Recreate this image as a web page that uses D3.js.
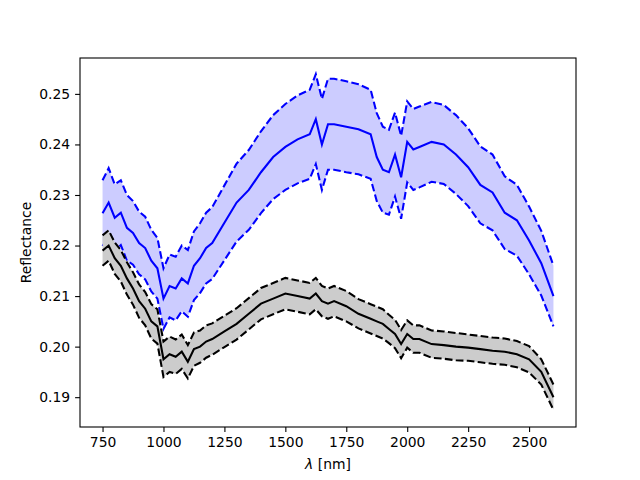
<!DOCTYPE html>
<html><head><meta charset="utf-8">
<script src="https://cdn.jsdelivr.net/npm/d3@7"></script>
<style>body{margin:0;background:#fff}text{font-family:"DejaVu Sans",sans-serif}</style>
</head><body><div id="chart"></div>
<script>
// wavelengths (nm)
const wl = [750,775,800,825,850,875,900,925,950,975,1000,1025,1050,1075,1100,1125,1150,1175,1200,1250,1300,1350,1400,1450,1500,1550,1600,1625,1650,1675,1700,1750,1800,1850,1875,1900,1925,1950,1975,2000,2025,2050,2100,2150,2200,2250,2300,2350,2400,2450,2500,2550,2600];
const blueMean = [.2264,.2285,.2255,.2265,.2235,.2225,.2205,.2195,.2170,.2155,.2095,.2120,.2115,.2135,.2125,.2160,.2175,.2195,.2205,.2245,.2285,.2310,.2345,.2375,.2395,.2410,.2420,.2450,.2400,.2440,.2440,.2435,.2430,.2420,.2375,.2350,.2345,.2380,.2335,.2405,.2390,.2395,.2405,.2400,.2380,.2355,.2320,.2305,.2265,.2250,.2210,.2165,.2100];
const blueSd = [.0065,.0068,.0066,.0064,.0065,.0063,.0062,.0062,.0061,.0060,.0060,.0062,.0063,.0065,.0066,.0068,.0069,.0070,.0071,.0074,.0077,.0079,.0081,.0083,.0085,.0087,.0088,.0089,.0090,.0090,.0090,.0090,.0089,.0088,.0087,.0085,.0084,.0083,.0082,.0080,.0080,.0080,.0079,.0078,.0078,.0077,.0076,.0075,.0072,.0070,.0067,.0064,.0060];
const blackMean = [.2190,.2200,.2175,.2160,.2135,.2115,.2090,.2075,.2050,.2040,.1975,.1985,.1980,.1990,.1970,.1995,.2000,.2010,.2015,.2030,.2045,.2065,.2085,.2095,.2105,.2100,.2095,.2105,.2090,.2085,.2090,.2080,.2065,.2055,.2050,.2045,.2035,.2025,.2005,.2025,.2015,.2015,.2005,.2003,.2000,.1998,.1995,.1992,.1990,.1985,.1975,.1950,.1900];
const blackSd = [.0030,.0030,.0031,.0031,.0032,.0032,.0033,.0033,.0034,.0034,.0035,.0035,.0034,.0034,.0033,.0033,.0032,.0032,.0031,.0031,.0031,.0031,.0031,.0031,.0031,.0031,.0031,.0031,.0030,.0030,.0030,.0030,.0029,.0029,.0029,.0029,.0028,.0028,.0028,.0027,.0027,.0027,.0027,.0027,.0027,.0026,.0026,.0026,.0026,.0026,.0026,.0025,.0025];
const xTicks = [750,1000,1250,1500,1750,2000,2250,2500];
const yTicks = [0.19,0.20,0.21,0.22,0.23,0.24,0.25];

const width = 640, height = 480;
const margin = { top: 58, right: 64, bottom: 53, left: 80 };

const svg = d3.select("#chart").append("svg").attr("width", width).attr("height", height);

const x = d3.scaleLinear().domain([657.5, 2692.5]).range([margin.left, width - margin.right]);
const y = d3.scaleLinear().domain([0.1841, 0.2571]).range([height - margin.bottom, margin.top]);

const drawSeries = (mean, sd, color, fill) => {
    const area = d3.area()
        .x((d, i) => x(wl[i]))
        .y0((d, i) => y(mean[i] - sd[i]))
        .y1((d, i) => y(mean[i] + sd[i]));
    svg.append("path").datum(mean).attr("d", area).attr("fill", fill);

    const line = sign => d3.line()
        .x((d, i) => x(wl[i]))
        .y((d, i) => y(mean[i] + sign * sd[i]));
    [-1, 1].forEach(s => {
        svg.append("path").datum(mean).attr("d", line(s))
            .attr("fill", "none").attr("stroke", color).attr("stroke-width", 2.08)
            .attr("stroke-dasharray", "7.7,3.3");
    });
    svg.append("path").datum(mean).attr("d", line(0))
        .attr("fill", "none").attr("stroke", color).attr("stroke-width", 2.08);
};

drawSeries(blueMean, blueSd, "#0000ff", "#ccccff");
drawSeries(blackMean, blackSd, "#000000", "#cccccc");

const xAxis = svg.append("g").attr("transform", `translate(0,${height - margin.bottom})`)
    .call(d3.axisBottom(x).tickValues(xTicks).tickSize(4.9).tickPadding(4.9).tickFormat(d3.format("d")));
const yAxis = svg.append("g").attr("transform", `translate(${margin.left},0)`)
    .call(d3.axisLeft(y).tickValues(yTicks).tickSize(4.9).tickPadding(4.9).tickFormat(d3.format(".2f")));
[xAxis, yAxis].forEach(a => {
    a.select(".domain").remove();
    a.selectAll("text").attr("font-size", 13.9).attr("font-family", "DejaVu Sans").attr("fill", "#000");
    a.selectAll("line").attr("stroke", "#000").attr("stroke-width", 1.1);
});

svg.append("rect")
    .attr("x", margin.left).attr("y", margin.top)
    .attr("width", width - margin.left - margin.right)
    .attr("height", height - margin.top - margin.bottom)
    .attr("fill", "none").attr("stroke", "#000").attr("stroke-width", 1.1);

const xl = svg.append("text").attr("x", (margin.left + width - margin.right) / 2).attr("y", 469)
    .attr("text-anchor", "middle").attr("font-size", 13.9);
xl.append("tspan").attr("font-style", "italic").text("λ");
xl.append("tspan").text(" [nm]");

svg.append("text").attr("transform", `translate(31,${(margin.top + height - margin.bottom) / 2}) rotate(-90)`)
    .attr("text-anchor", "middle").attr("font-size", 13.9).text("Reflectance");
</script>
</body></html>
